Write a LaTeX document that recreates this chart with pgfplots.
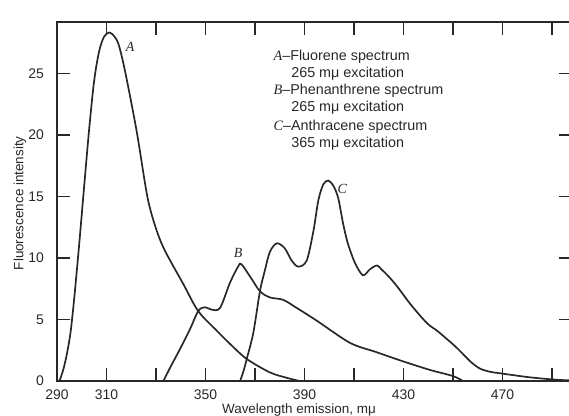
\documentclass[border=0pt]{standalone}
\usepackage{fontspec}
\setmainfont{Liberation Sans}
\newfontfamily\lblfont{Liberation Serif}
\usepackage{pgfplots}
\pgfplotsset{compat=1.18}
\usetikzlibrary{calc}

\definecolor{ink}{RGB}{40,40,40}

\begin{document}
\begin{tikzpicture}
\begin{axis}[
    name=ax,
    scale only axis,
    width=514.8bp, height=359bp,
    xmin=290, xmax=498,
    ymin=0, ymax=29.2,
    axis line style={line width=2bp, draw=ink},
    xtick={290,310,...,490},
    xticklabels={290,310,,350,,390,,430,,470,},
    ytick={0,5,...,25},
    tick align=inside,
    major tick length=13bp,
    tick style={line width=1.3bp, draw=ink},
    /pgf/number format/assume math mode=true,
    tick label style={font=\fontsize{14}{16}\selectfont, text=ink},
    xticklabel style={anchor=center, yshift=-14bp},
    yticklabel style={anchor=east, inner sep=0pt, xshift=-13bp},
    xlabel={Wavelength emission, mμ},
    xlabel style={font=\fontsize{13.5}{15}\selectfont, text=ink, inner sep=0pt,
        at={(axis description cs:0.47,0)}, anchor=center, yshift=-29.5bp},
    ylabel={Fluorescence intensity},
    ylabel style={font=\fontsize{13.5}{16}\selectfont, text=ink,
        at={(axis description cs:0,0.495)}, anchor=center, yshift=37bp},
    cycle list={{ink}},
    every axis plot/.append style={line width=1.7bp, smooth, no markers},
]

% A - fluorene
\addplot coordinates {
 (291,0) (292.5,0.9) (294,2.2) (295.5,4.0) (297,6.8) (299,11.2) (301,15.9)
 (303,20.5) (305,24.4) (307,26.8) (309,28.0) (311.2,28.35) (313.3,28.0)
 (315,27.3) (317.5,25.2) (322.2,20.3) (326.5,15.0) (330,12.4) (333.6,10.6)
 (341,7.9) (347,5.7) (354.5,4.1) (360,3.0) (366.6,1.8) (376,0.7) (383,0.25) (388,0)
};

% B - phenanthrene
\addplot coordinates {
 (333,0) (336,1.2) (339.7,2.6) (343.7,4.2) (347.1,5.7) (349.8,6.0) (352.5,5.8)
 (355.9,5.95) (359.9,8.0) (363.3,9.35) (364.5,9.5) (368,8.5) (372,7.3) (376,6.8)
 (381.4,6.6) (386.8,5.95) (395,4.9) (408.4,3.1) (419,2.35) (429.8,1.6)
 (440.7,0.9) (450,0.4) (454,0)
};

% C - anthracene
\addplot coordinates {
 (364,0) (365.5,0.9) (366.6,1.75) (369.3,3.9) (372,7.3) (374,9.0) (376,10.5)
 (378.8,11.2) (382,10.8) (384.8,9.8) (387.5,9.3) (390.9,9.8) (393.6,12.2)
 (395.6,14.7) (397.6,16.0) (399.6,16.3) (401.6,15.9) (403.6,14.9) (405.6,12.8)
 (407.5,11.2) (410.4,9.6) (413.6,8.6) (416.5,9.1) (419.3,9.4) (421,9.1)
 (424,8.5) (427.4,7.7) (433,6.2) (439.5,4.7) (443.5,4.1) (447.6,3.4) (451,2.8)
 (454,2.2) (457.5,1.5) (461,1.0) (465,0.75) (470,0.6) (481,0.3) (492,0.1) (498,0.05)
};

\node[font=\fontsize{14}{16}\selectfont\lblfont\itshape, text=ink] at (axis cs:319.5,27.2) {A};
\node[font=\fontsize{14}{16}\selectfont\lblfont\itshape, text=ink] at (axis cs:363.2,10.4) {B};
\node[font=\fontsize{14}{16}\selectfont\lblfont\itshape, text=ink] at (axis cs:405.3,15.6) {C};

\begin{scope}[every node/.style={anchor=base west, inner sep=0pt, text=ink,
    font=\fontsize{14.4}{16}\selectfont}]
\node at (axis cs:377.4,26.1) {{\lblfont\itshape A}–Fluorene spectrum};
\node at (axis cs:384.6,24.7) {265 mμ excitation};
\node at (axis cs:377.4,23.3) {{\lblfont\itshape B}–Phenanthrene spectrum};
\node at (axis cs:384.6,21.9) {265 mμ excitation};
\node at (axis cs:377.4,20.4) {{\lblfont\itshape C}–Anthracene spectrum};
\node at (axis cs:384.6,19.0) {365 mμ excitation};
\end{scope}
\end{axis}
\pgfresetboundingbox
\path[use as bounding box] ($(ax.south west)+(-57bp,-35bp)$) rectangle ($(ax.north west)+(512bp,22bp)$);
\end{tikzpicture}
\end{document}
